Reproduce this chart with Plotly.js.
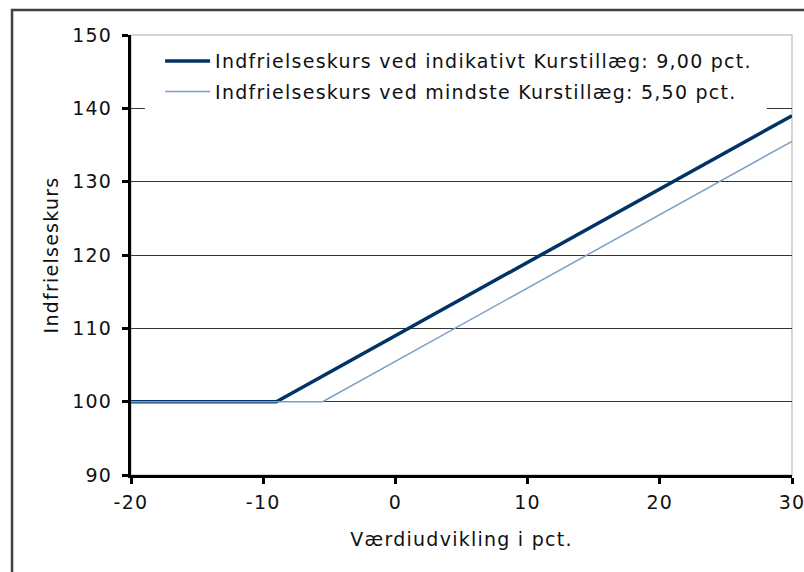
<!DOCTYPE html>
<html><head><meta charset="utf-8">
<script src="https://cdn.plot.ly/plotly-3.0.1.min.js"></script>
<style>
html,body{margin:0;padding:0;overflow:hidden;background:#fff}
text{letter-spacing:1.25px}
</style>
</head><body>
<div id="chart" style="width:804px;height:572px"></div>
<script>
const xIndikativt = [-20, -9, 30];
const yIndikativt = [100, 100, 139];
const xMindste = [-20, -5.5, 30];
const yMindste = [100, 100, 135.5];
const nameIndikativt = 'Indfrielseskurs ved indikativt Kurstillæg: 9,00 pct.';
const nameMindste = 'Indfrielseskurs ved mindste Kurstillæg: 5,50 pct.';
const xTicks = [-20, -10, 0, 10, 20, 30];
const xTickText = ['-20', '-10', '0', '10', '20', '30'];
const yTicks = [90, 100, 110, 120, 130, 140, 150];

const font = {family: '"DejaVu Sans", Verdana, sans-serif', size: 19, color: '#111'};

const traces = [
  {x: xIndikativt, y: yIndikativt, mode: 'lines', name: nameIndikativt, legendgroup: 'a',
   line: {color: '#003366', width: 3.5}},
  {x: xMindste, y: yMindste, mode: 'lines', name: nameMindste, legendgroup: 'b',
   line: {color: '#7a9ec6', width: 1.5}}
];

const layout = {
  width: 804, height: 572,
  margin: {l: 131, r: 12, t: 35, b: 97},
  paper_bgcolor: '#fff', plot_bgcolor: '#fff',
  font: font,
  showlegend: true,
  legend: {x: 0.044, y: 0.984, xanchor: 'left', yanchor: 'top',
           bgcolor: '#fff', borderwidth: 0, font: font,
           tracegroupgap: 3, itemwidth: 45},
  xaxis: {range: [-20, 30], tickvals: xTicks, ticktext: xTickText, ticks: 'outside', ticklen: 6, tickwidth: 3,
          tickcolor: '#000', showline: true, linecolor: '#000', linewidth: 3,
          showgrid: false, zeroline: false, tickfont: font, ticklabelstandoff: 2,
          ticklabeloverflow: 'allow',
          title: {text: 'Værdiudvikling i pct.', font: font, standoff: 21}},
  yaxis: {range: [90, 150], tickvals: yTicks, ticks: 'outside', ticklen: 6, tickwidth: 3,
          tickcolor: '#000', showline: true, linecolor: '#000', linewidth: 3,
          showgrid: true, gridcolor: '#333', gridwidth: 1, zeroline: false, tickfont: font,
          ticklabelstandoff: 6, ticklabeloverflow: 'allow',
          title: {text: 'Indfrielseskurs', font: font, standoff: 9}},
  shapes: [
    {type: 'rect', xref: 'paper', yref: 'paper', x0: 0.021, x1: 0.962, y0: 0.82, y1: 0.988,
     fillcolor: '#fff', line: {width: 0}, layer: 'above'},
    {type: 'rect', xref: 'paper', yref: 'paper', x0: 0, x1: 1, y0: 0, y1: 1,
     line: {color: '#c8c8c8', width: 1.5}, layer: 'between'},
    {type: 'rect', xref: 'paper', yref: 'paper', x0: -0.18, x1: 1.2, y0: -0.4, y1: 1.057,
     line: {color: '#404040', width: 2.5}, layer: 'above'}
  ]
};

Plotly.newPlot('chart', traces, layout, {displayModeBar: false, staticPlot: true});
</script>
</body></html>
